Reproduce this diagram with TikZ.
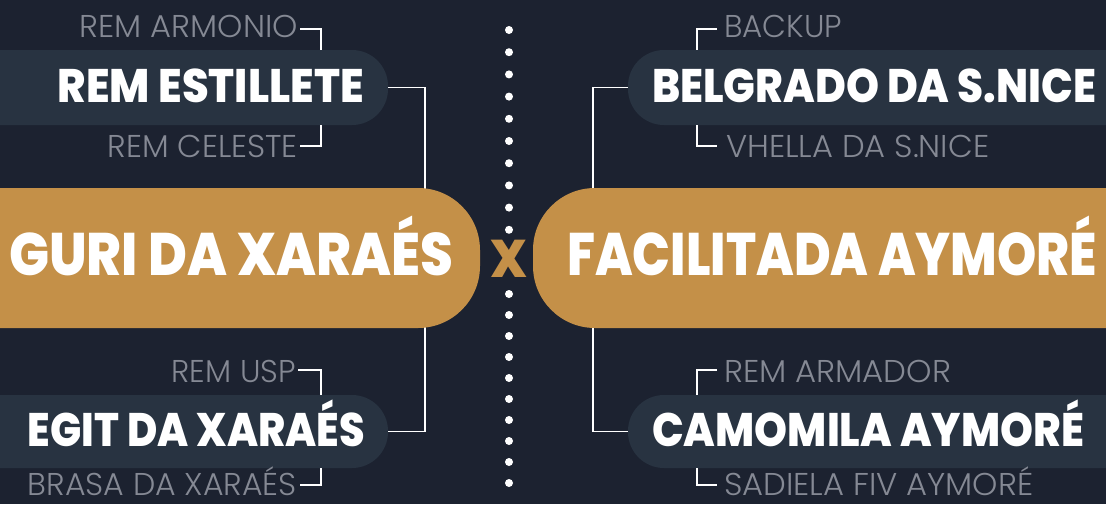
\documentclass[tikz,border=0pt]{standalone}
\usepackage{fontspec}
\usepackage{graphicx}
\setmainfont{Poppins}
\newfontfamily\lightf{Poppins Light}
\newfontfamily\heavyf{Poppins ExtraBold}
\definecolor{bg}{HTML}{1C2230}
\definecolor{pillc}{HTML}{283341}
\definecolor{gold}{HTML}{C49048}
\definecolor{subc}{HTML}{858994}
\newcommand\fw[2]{\resizebox{#1pt}{\height}{#2}}
\tikzset{
  teamtxt/.style={inner sep=0, text=white, font=\fontsize{47}{47}\selectfont\heavyf},
  goldtxt/.style={inner sep=0, text=white, font=\fontsize{60}{60}\selectfont\heavyf},
  subtxt/.style={inner sep=0, text=subc, font=\fontsize{31.5}{31.5}\selectfont\lightf},
  pill/.style={fill=pillc, draw=none, rounded corners=36pt, inner sep=0},
  goldpill/.style={fill=gold, draw=none, rounded corners=62pt, inner sep=0},
  conn/.style={draw=white, line width=1.5pt},
  br/.style={draw=white, line width=1.5pt},
  dot/.style={circle, fill=white, minimum size=8pt, inner sep=0},
}
\begin{document}
\begin{tikzpicture}[x=1pt,y=-1pt]
\useasboundingbox (0,0) rectangle (1106,504);
\fill[bg] (0,0) rectangle (1106,504);
\clip (0,0) rectangle (1106,504);

% team pills (background shapes)
\node[pill, minimum width=448pt, minimum height=75pt] (pest) at (164,87.5) {};
\node[pill, minimum width=448pt, minimum height=73pt] (pegit) at (164,431.5) {};
\node[pill, minimum width=538pt, minimum height=75pt] (pbel) at (897,87.5) {};
\node[pill, minimum width=538pt, minimum height=73pt] (pcam) at (897,431.5) {};

% main connectors
\draw[conn] (pest.east) -- ++(37,0) |- (pegit.east);
\draw[conn] (pbel.west) -- ++(-35,0) |- (pcam.west);

% gold pills
\node[goldpill, minimum width=580pt, minimum height=140pt] (gl) at (190,258) {};
\node[goldpill, minimum width=680pt, minimum height=140pt] (gr) at (873,258) {};

% texts
\node[goldtxt, anchor=base west] (guri) at (9,275) {\fw{444}{GURI DA XARAÉS}};
\node[goldtxt, anchor=base west] (faci) at (567,275) {\fw{530}{FACILITADA AYMORÉ}};

\node[teamtxt, anchor=base east] (test) at (364,102) {\fw{306}{REM ESTILLETE}};
\node[teamtxt, anchor=base east] (tegit) at (365,446) {\fw{337}{EGIT DA XARAÉS}};
\node[teamtxt, anchor=base west] (tbel) at (652,102) {\fw{444}{BELGRADO DA S.NICE}};
\node[teamtxt, anchor=base west] (tcam) at (652,446) {\fw{432}{CAMOMILA AYMORÉ}};

\node[subtxt, anchor=base east] (armonio) at (298,37) {\fw{218}{REM ARMONIO}};
\node[subtxt, anchor=base east] (celeste) at (298,157) {\fw{190}{REM CELESTE}};
\node[subtxt, anchor=base east] (usp) at (296,382) {\fw{124}{REM USP}};
\node[subtxt, anchor=base east] (brasa) at (297,495) {\fw{269}{BRASA DA XARAÉS}};
\node[subtxt, anchor=base west] (backup) at (724,37) {\fw{118}{BACKUP}};
\node[subtxt, anchor=base west] (vhella) at (726,157) {\fw{263}{VHELLA DA S.NICE}};
\node[subtxt, anchor=base west] (armador) at (724,382) {\fw{227}{REM ARMADOR}};
\node[subtxt, anchor=base west] (sadiela) at (724,495) {\fw{309}{SADIELA FIV AYMORÉ}};

% brackets
\draw[br] ([shift={(2,-8)}]armonio.base east) -| ([xshift=-67pt]pest.north east);
\draw[br] ([xshift=-67pt]pest.south east) |- ([shift={(2,-11)}]celeste.base east);
\draw[br] ([shift={(2,-12)}]usp.base east) -| ([xshift=-67pt]pegit.north east);
\draw[br] ([xshift=-67pt]pegit.south east) |- ([shift={(3,-10)}]brasa.base east);
\draw[br] ([shift={(-7,-8)}]backup.base west) -| ([xshift=69pt]pbel.north west);
\draw[br] ([xshift=69pt]pbel.south west) |- ([shift={(-9,-11)}]vhella.base west);
\draw[br] ([shift={(-7,-12)}]armador.base west) -| ([xshift=69pt]pcam.north west);
\draw[br] ([xshift=69pt]pcam.south west) |- ([shift={(-7,-10)}]sadiela.base west);

% dotted divider
\foreach \i in {0,...,9} \node[dot] (da\i) at (509,30+22.2*\i) {};
\foreach \i in {0,...,9} \node[dot] (db\i) at (509,294+21*\i) {};

% versus
\node[inner sep=0, anchor=base, text=gold, font=\fontsize{53}{53}\selectfont\heavyf] (vs) at (508.5,277) {\fw{37}{X}};
\end{tikzpicture}
\end{document}
